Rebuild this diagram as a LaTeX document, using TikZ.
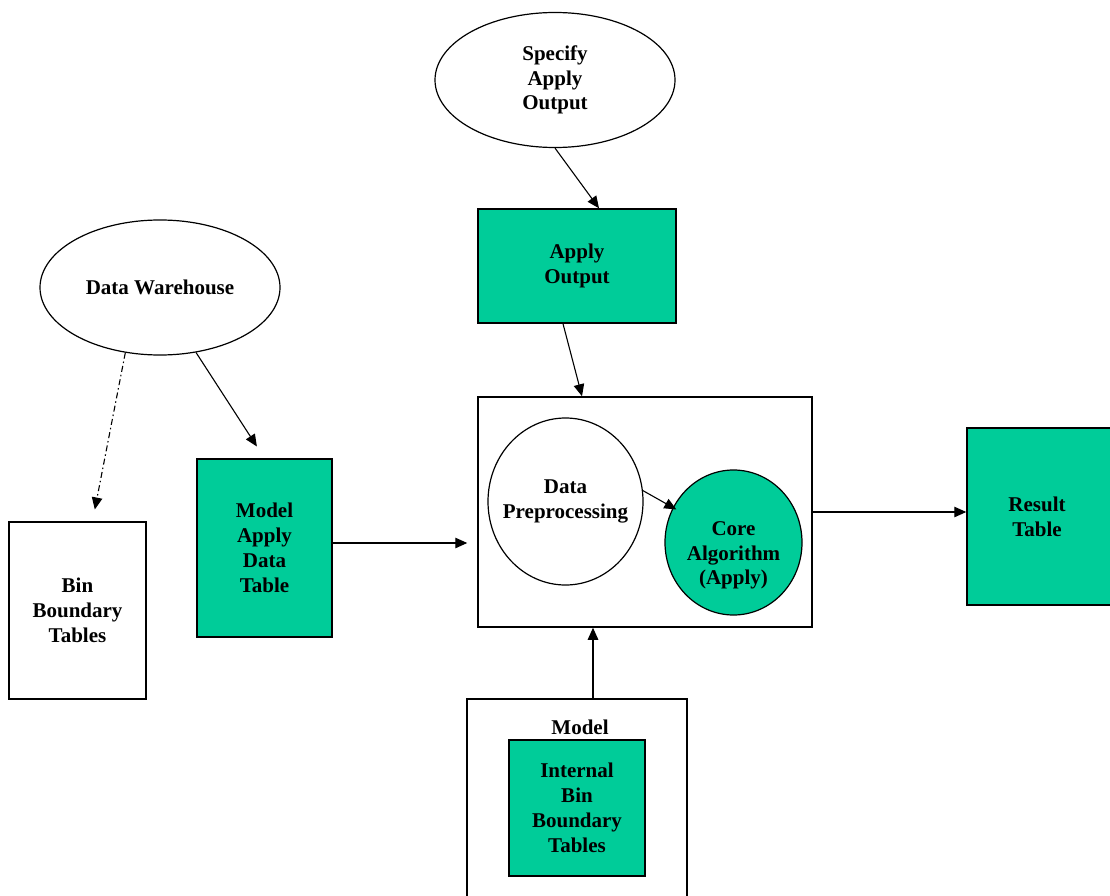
\documentclass[tikz,border=0pt]{standalone}
\usepackage{fontspec}
\setmainfont{Liberation Serif}
\usetikzlibrary{shapes.geometric,arrows.meta}
\definecolor{seagreen}{RGB}{0,204,153}
\begin{document}
\begin{tikzpicture}[x=1pt,y=-1pt,
  lbl/.style={font=\fontsize{21}{24.8}\selectfont\bfseries, align=center, text=black},
  box/.style={draw=black, line width=1.5pt, rectangle, inner sep=0pt, lbl},
  greenbox/.style={box, fill=seagreen},
  oval/.style={draw=black, line width=1.2pt, ellipse, inner sep=0pt},
  flow/.style={line width=1.1pt, -{Triangle[length=12pt,width=10.5pt]}},
  flowdashed/.style={flow, dash pattern=on 6pt off 3pt on 1.5pt off 3pt}
]
\useasboundingbox (0,0) rectangle (1110,896);

% sources and specification
\node[oval, lbl, minimum width=240pt, minimum height=135pt] (spec) at (555,80) {Specify\\Apply\\Output};
\node[greenbox, minimum width=198pt, minimum height=114pt] (aout) at (577,266) {Apply\\Output};
\node[oval, lbl, minimum width=240pt, minimum height=135pt] (dw) at (160,287.5) {Data Warehouse};
\node[box, minimum width=137pt, minimum height=177pt] (bin) at (77.5,610.5) {Bin\\Boundary\\Tables};
\node[greenbox, minimum width=135pt, minimum height=178pt] (mad) at (264.5,548) {Model\\Apply\\Data\\Table};

% apply engine
\node[box, minimum width=334pt, minimum height=230pt] (engine) at (645,512) {};
\node[oval, minimum width=155pt, minimum height=167pt,
      label={[lbl]center:Data\\Preprocessing}] (prep) at (565.5,501.5) {};
\node[oval, fill=seagreen, minimum width=137pt, minimum height=145pt,
      label={[lbl, yshift=-13pt]center:Core\\Algorithm\\(Apply)}] (core) at (733.5,542.5) {};

% output
\node[greenbox, minimum width=148pt, minimum height=177pt,
      label={[lbl, xshift=-4pt]center:Result\\Table}] (result) at (1041,516.5) {};

% model
\node[box, minimum width=220pt, minimum height=221pt] (model) at (577,809.5) {};
\node[lbl] (modeltitle) at (580,727) {Model};
\node[greenbox, minimum width=136pt, minimum height=136pt] (ibb) at (577,808) {Internal\\Bin\\Boundary\\Tables};

% connectors
\draw[flow] (spec.south) -- ([xshift=22pt]aout.north);
\draw[flow] ([xshift=-14pt]aout.south) -- ([xshift=-63pt]engine.north);
\draw[flow, shorten >=14pt] (dw.-61.5) -- (mad.north);
\draw[flowdashed, shorten >=12pt] (dw.-118) -- ([xshift=15pt]bin.north);
\draw[flow, shorten >=10pt] ([yshift=5pt]mad.east) -- ([yshift=5pt]mad.east -| engine.west);
\draw[flow, shorten >=-4pt] (prep.8) -- (core.150);
\draw[flow] (engine.east) -- (engine.east -| result.west);
\draw[flow] ([xshift=16pt]model.north) -- ([xshift=16pt]model.north |- engine.south);
\end{tikzpicture}
\end{document}
